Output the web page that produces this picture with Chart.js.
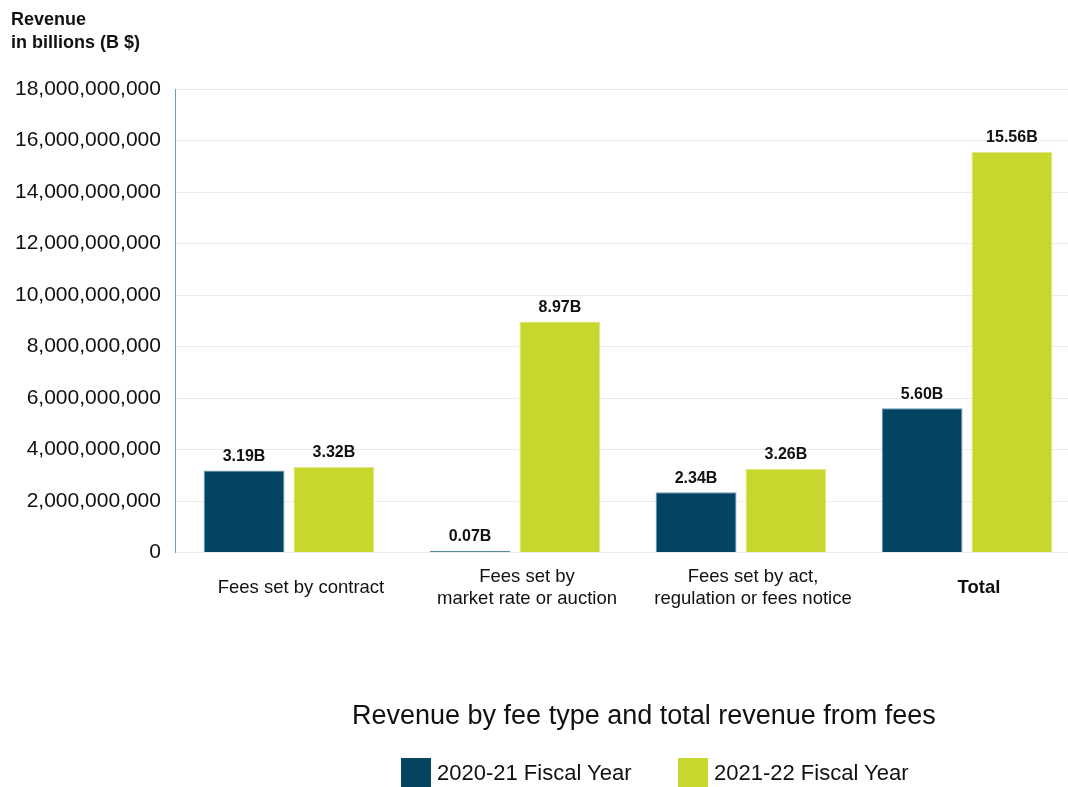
<!DOCTYPE html>
<html>
<head>
<meta charset="utf-8">
<script src="https://cdn.jsdelivr.net/npm/chart.js@4.4.1/dist/chart.umd.min.js"></script>
<style>
  body{margin:0;background:#fff;font-family:Arial,"Liberation Sans",sans-serif;}
  #wrap{position:relative;width:1068px;height:787px;overflow:hidden;}
  #ytitle{position:absolute;left:11px;top:8px;font-size:18px;font-weight:bold;line-height:23px;color:#111;font-family:Arial,"Liberation Sans",sans-serif;}
  #titre{position:absolute;left:352px;top:700px;font-size:27px;color:#111;white-space:nowrap;}
  #legende{position:absolute;left:401px;top:758px;font-size:22px;color:#111;white-space:nowrap;}
  .item{position:absolute;top:0;height:30px;line-height:30px;}
  .carre{display:inline-block;width:30px;height:30px;vertical-align:top;margin-right:6px;}
  canvas{position:absolute;left:0;top:0;}
</style>
</head>
<body>
<div id="wrap">
  <canvas id="graphique" width="1082" height="787"></canvas>
  <div id="ytitle">Revenue<br>in billions (B $)</div>
  <div id="titre">Revenue by fee type and total revenue from fees</div>
  <div id="legende"></div>
</div>
<script>
const categories = [
    ["Fees set by contract"],
    ["Fees set by", "market rate or auction"],
    ["Fees set by act,", "regulation or fees notice"],
    ["Total"]
];
const series = ["2020-21 Fiscal Year", "2021-22 Fiscal Year"];
const valeurs2021 = [3190000000, 70000000, 2340000000, 5600000000];
const valeurs2122 = [3320000000, 8970000000, 3260000000, 15560000000];
const couleurs = ["#034462", "#c8d72e"];
const bordures = ["#6f9bb4", "#dfe78c"];

const police = "Arial, 'Liberation Sans', sans-serif";

// legende en html
const leg = document.getElementById("legende");
series.forEach((nom, i) => {
    const div = document.createElement("div");
    div.className = "item";
    div.style.left = (i * 277) + "px";
    div.innerHTML = `<span class="carre" style="background:${couleurs[i]}"></span>${nom}`;
    leg.appendChild(div);
});

// etiquettes au-dessus des barres
const etiquettes = {
    id: "etiquettes",
    afterDatasetsDraw(chart){
        const ctx = chart.ctx;
        ctx.save();
        ctx.font = "bold 16px " + police;
        ctx.fillStyle = "#111";
        ctx.textAlign = "center";
        ctx.textBaseline = "bottom";
        chart.data.datasets.forEach((ds, i) => {
            chart.getDatasetMeta(i).data.forEach((bar, j) => {
                const txt = (ds.data[j] / 1e9).toFixed(2) + "B";
                ctx.fillText(txt, bar.x, bar.y - 6);
            });
        });
        ctx.restore();
    }
};

new Chart(document.getElementById("graphique"), {
    type: "bar",
    data: {
        labels: categories,
        datasets: [
            {label: series[0], data: valeurs2021, backgroundColor: couleurs[0], borderColor: bordures[0], borderWidth: 1},
            {label: series[1], data: valeurs2122, backgroundColor: couleurs[1], borderColor: bordures[1], borderWidth: 1}
        ]
    },
    options: {
        responsive: false,
        animation: false,
        layout: {padding: {left: 0, right: 2, top: 89, bottom: 150}},
        categoryPercentage: 0.795,
        barPercentage: 0.9,
        plugins: {
            legend: {display: false},
            tooltip: {enabled: false}
        },
        scales: {
            x: {
                grid: {display: false},
                border: {display: false},
                ticks: {
                    color: "#111",
                    padding: 16,
                    labelOffset: 12,
                    maxRotation: 0,
                    crossAlign: "center",
                    font: (c) => ({
                        family: police,
                        size: 18.5,
                        lineHeight: 1.2,
                        weight: c.index === 3 ? "bold" : "normal"
                    })
                }
            },
            y: {
                min: 0,
                max: 18000000000,
                grid: {color: "#ececec", drawTicks: false},
                border: {color: "#6f9bb4", width: 1},
                ticks: {
                    stepSize: 2000000000,
                    color: "#111",
                    padding: 15,
                    font: {family: police, size: 21},
                    callback: (v) => v.toLocaleString("en-US")
                }
            }
        }
    },
    plugins: [etiquettes]
});
</script>
</body>
</html>
